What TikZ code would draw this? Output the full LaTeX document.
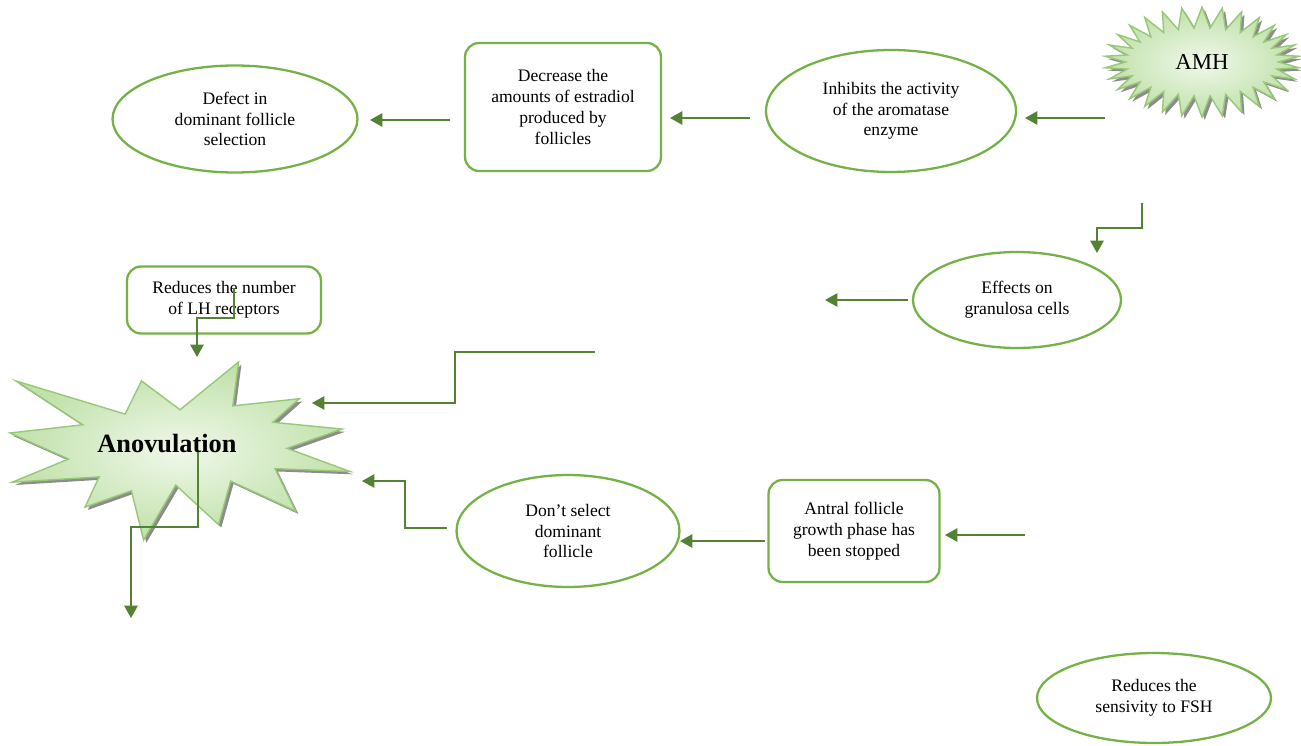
\documentclass[tikz,border=0pt]{standalone}
\usepackage{fontspec}
\setmainfont{Liberation Serif}
\usetikzlibrary{arrows.meta,shapes.geometric,shapes.symbols,shadows}
\definecolor{linegreen}{RGB}{116,178,72}
\definecolor{arrowgreen}{RGB}{84,130,53}
\definecolor{burstedge}{RGB}{150,200,118}
\definecolor{burstin}{RGB}{240,248,234}
\definecolor{burstout}{RGB}{192,225,170}

\begin{document}
\begin{tikzpicture} [
  x=0.02cm, y=-0.02cm,
  >={Triangle[length=7pt,width=7.6pt]},
  oval node/.style={ellipse,draw=linegreen,line width=1.3pt,align=center,
    inner sep=0pt,font=\fontsize{10}{11.8}\selectfont},
  box node/.style={rectangle,draw=linegreen,line width=1.3pt,rounded corners=8pt,
    align=center,inner sep=0pt,font=\fontsize{10}{11.8}\selectfont},
  burst/.style={draw=burstedge,line width=0.8pt,inner color=burstin,
    outer color=burstout,drop shadow={shadow xshift=1.6pt,shadow yshift=-1.6pt,
    fill=black!45,opacity=1}},
  link/.style={->,draw=arrowgreen,line width=0.9pt},
  ]

  \useasboundingbox (0,0) rectangle (1301,746);

  \node[burst, starburst, starburst points=30, starburst point height=0.42cm,
    random starburst=0, minimum width=3.9cm, minimum height=2.2cm,
    font=\fontsize{13}{15}\selectfont] (amh) at (1202,62) {AMH};

  \begin{scope}[shift={(10,362)}, xscale=340/216, yscale=178/216]
    \path[burst] (108,58) -- (145.22,0) -- (141.55,53.25) -- (183.8,44.57)
      -- (167.02,73.15) -- (210.97,81.37) -- (176.07,104.75) -- (216,132.9)
      -- (168.37,129.42) -- (181.45,180.95) -- (140.2,144.57) -- (132.47,197.37)
      -- (105.32,149.35) -- (84.85,216) -- (77.15,156.27) -- (47.62,176.17)
      -- (56.67,139.37) -- (1.35,145.87) -- (37.22,117.75) -- (0,86.15)
      -- (46.27,76.17) -- (3.7,22.95) -- (73.12,63.2) -- (83.52,22.95) -- cycle;
  \end{scope}
  \node[font=\fontsize{15}{18}\selectfont\bfseries] (anov) at (167,444) {Anovulation};

  \node[oval node, minimum width=4.9cm, minimum height=2.14cm] (defect) at (235,119)
    {Defect in\\dominant follicle\\selection};
  \node[box node, minimum width=3.92cm, minimum height=2.56cm] (decrease) at (563,107)
    {Decrease the\\amounts of estradiol\\produced by\\follicles};
  \node[oval node, minimum width=5cm, minimum height=2.44cm] (inhibit) at (891,111)
    {Inhibits the activity\\of the aromatase\\enzyme};
  \node[oval node, minimum width=4.16cm, minimum height=1.92cm] (effects) at (1017,300)
    {Effects on\\granulosa cells};
  \node[box node, minimum width=3.88cm, minimum height=1.34cm] (lhrec) at (224,300)
    {Reduces the number\\of LH receptors};
  \node[oval node, minimum width=4.46cm, minimum height=2.24cm] (dontsel) at (568,531)
    {Don’t select\\dominant\\follicle};
  \node[box node, minimum width=3.42cm, minimum height=2.04cm] (antral) at (854,531)
    {Antral follicle\\growth phase has\\been stopped};
  \node[oval node, minimum width=4.68cm, minimum height=1.8cm] (fsh) at (1154,698)
    {Reduces the\\sensivity to FSH};

  \coordinate (amh out) at (1105,118);
  \coordinate (inhibit in) at (1025,118);
  \coordinate (inhibit out) at (750,118);
  \coordinate (decrease in) at (670,118);
  \coordinate (decrease out) at (450,120);
  \coordinate (defect in) at (370,120);
  \coordinate (amh down) at (1142,203);
  \coordinate (effects in) at (1097,253);
  \coordinate (effects out) at (908,300);
  \coordinate (effects end) at (825,300);
  \coordinate (lhrec out) at (234,288);
  \coordinate (anov top) at (197,357);
  \coordinate (free start) at (595,352);
  \coordinate (anov right) at (312,403);
  \coordinate (anov out) at (198,452);
  \coordinate (anov end) at (131,618);
  \coordinate (dontsel out) at (447,528);
  \coordinate (anov in) at (362,481);
  \coordinate (antral out) at (765,541);
  \coordinate (dontsel in) at (680,541);
  \coordinate (antral start) at (1025,535);
  \coordinate (antral in) at (945,535);

  \draw[link] (amh out) -- (inhibit in);
  \draw[link] (inhibit out) -- (decrease in);
  \draw[link] (decrease out) -- (defect in);
  \draw[link] (amh down) |- (1097,228) -- (effects in);
  \draw[link] (effects out) -- (effects end);
  \draw[link] (lhrec out) |- (197,318) -- (anov top);
  \draw[link] (free start) -| (455,403) -- (anov right);
  \draw[link] (anov out) |- (131,527) -- (anov end);
  \draw[link] (dontsel out) -| (405,481) -- (anov in);
  \draw[link] (antral out) -- (dontsel in);
  \draw[link] (antral start) -- (antral in);
\end{tikzpicture}
\end{document}
